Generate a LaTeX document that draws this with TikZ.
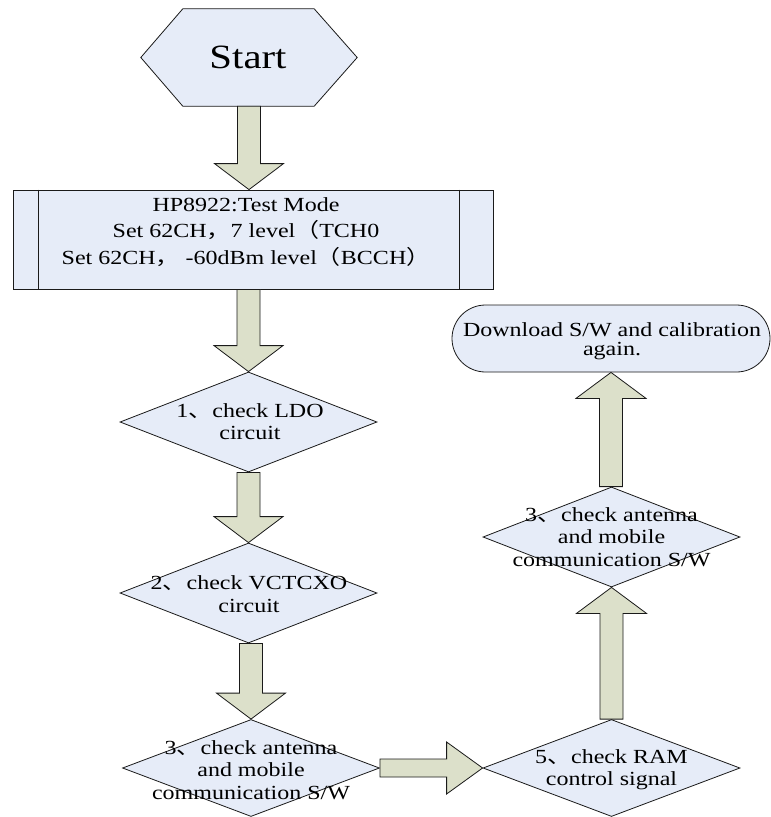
\documentclass[tikz,border=0pt]{standalone}
\usepackage{fontspec}
\setmainfont[FakeStretch=1.2]{Liberation Serif}
\newfontfamily\cjkfont[FakeStretch=1.2]{Noto Sans CJK SC}
\newcommand\cj[1]{{\cjkfont #1}}
\usetikzlibrary{shapes.geometric,calc}
\definecolor{shapefill}{HTML}{E6ECF8}
\definecolor{arrowfill}{HTML}{DCE0CA}
\definecolor{edgecol}{HTML}{1A1A1A}
\tikzset{
 outline/.style={draw=edgecol, line width=0.8pt, fill=shapefill},
 dia/.style={outline, shape=diamond, inner sep=0pt, minimum width=257pt, minimum height=100pt},
 txt/.style={align=center, inner sep=0pt, font=\fontsize{20pt}{22.5pt}\selectfont},
 blk/.style={draw=edgecol, line width=0.8pt, fill=arrowfill, line join=miter},
}
\newcommand\downblk[2]{\path[blk] let \p1=#1, \p2=#2 in
  (\x2-11.5pt,\y1) -- (\x2-11.5pt,\y2+26pt) -- (\x2-34.5pt,\y2+26pt) -- (\x2,\y2)
  -- (\x2+34.5pt,\y2+26pt) -- (\x2+11.5pt,\y2+26pt) -- (\x2+11.5pt,\y1) -- cycle;}
\newcommand\upblk[2]{\path[blk] let \p1=#1, \p2=#2 in
  (\x2-11.5pt,\y1) -- (\x2-11.5pt,\y2-26pt) -- (\x2-35pt,\y2-26pt) -- (\x2,\y2)
  -- (\x2+35pt,\y2-26pt) -- (\x2+11.5pt,\y2-26pt) -- (\x2+11.5pt,\y1) -- cycle;}
\newcommand\rightblk[2]{\path[blk] let \p1=#1, \p2=#2 in
  (\x1,\y2+9pt) -- (\x2-36pt,\y2+9pt) -- (\x2-36pt,\y2+26pt) -- (\x2,\y2)
  -- (\x2-36pt,\y2-26pt) -- (\x2-36pt,\y2-9pt) -- (\x1,\y2-9pt) -- cycle;}
\begin{document}
\begin{tikzpicture}[x=1pt,y=-1pt]
\fill[white] (0,0) rectangle (771,817);
\useasboundingbox (0,0) rectangle (771,817);
% start hexagon
\node[minimum width=216pt, minimum height=97pt, inner sep=0pt] (start) at (249,57.5) {};
\path[outline] (start.west) -- ($(start.north west)+(42,0)$) -- ($(start.north east)+(-43,0)$)
  -- (start.east) -- ($(start.south east)+(-43,0)$) -- ($(start.south west)+(42,0)$) -- cycle;
% predefined process box
\node[outline, minimum width=480pt, minimum height=99pt, inner sep=0pt] (box) at (253,239.5) {};
\draw[draw=edgecol, line width=0.8pt] ($(box.north west)+(26,0)$) -- ($(box.south west)+(26,0)$);
\draw[draw=edgecol, line width=0.8pt] ($(box.north east)+(-34,0)$) -- ($(box.south east)+(-34,0)$);
% terminator
\node[outline, rounded corners=33.5pt, minimum width=318pt, minimum height=67pt, inner sep=0pt] (term) at (611,338.5) {};
% diamonds
\node[dia] (d1) at (248.5,422) {};
\node[dia] (d2) at (248.5,593) {};
\node[dia, minimum height=97pt] (d3) at (251,768) {};
\node[dia] (d4) at (611.5,537) {};
\node[dia, minimum height=97pt] (d5) at (611.5,768) {};
% block arrows
\downblk{(start.south)}{(start.south |- box.north)}
\downblk{(d1.north |- box.south)}{(d1.north)}
\downblk{(d1.south)}{(d2.north)}
\downblk{(d2.south)}{(d3.north)}
\rightblk{(d3.east)}{(d5.west)}
\upblk{(d5.north)}{(d4.south)}
\upblk{(d4.north)}{(term.south)}
% texts
\node[txt, font=\fontsize{34pt}{40pt}\selectfont] (starttxt) at (248,57) {Start};
\node[txt, font=\fontsize{20pt}{26.5pt}\selectfont] (boxtxt) at (246,232)
  {HP8922:Test Mode\\Set 62CH\cj{，}7 level\cj{（}TCH0\\Set 62CH\cj{，} -60dBm level\cj{（}BCCH\cj{）}};
\node[txt, font=\fontsize{20pt}{19pt}\selectfont] (termtxt) at (612,341) {Download S/W and calibration\\again.};
\node[txt] (t1) at (250,421.5) {1\cj{、}check LDO\\circuit};
\node[txt] (t2) at (249,594) {2\cj{、}check VCTCXO\\circuit};
\node[txt] (t3) at (251,770) {3\cj{、}check antenna\\and mobile\\communication S/W};
\node[txt] (t4) at (611.5,537) {3\cj{、}check antenna\\and mobile\\communication S/W};
\node[txt] (t5) at (611.5,769.5) {5\cj{、}check RAM\\control signal};
\end{tikzpicture}
\end{document}
